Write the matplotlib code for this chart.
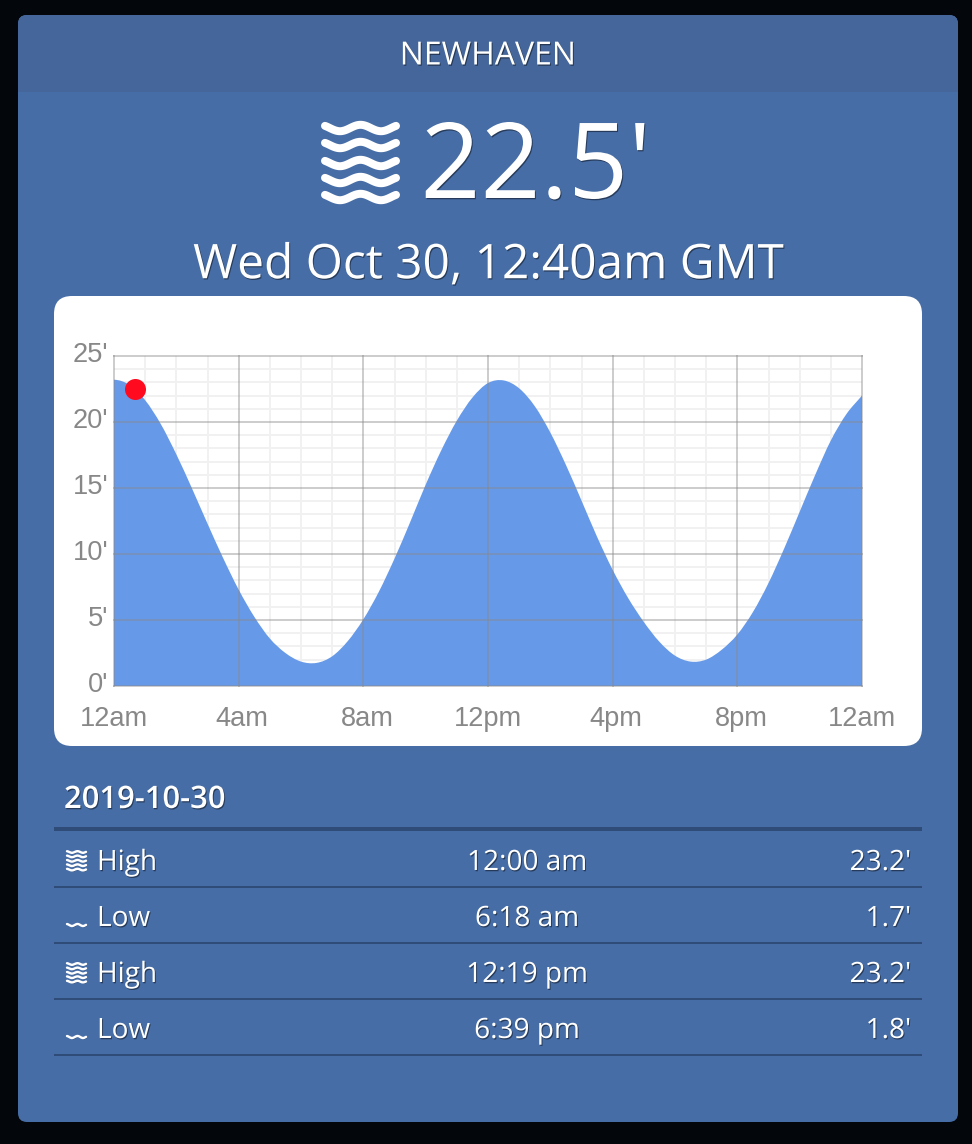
import numpy as np
import matplotlib
matplotlib.use('Agg')
import matplotlib.pyplot as plt
import matplotlib.patheffects as pe
from matplotlib.patches import FancyBboxPatch, Rectangle, PathPatch
from matplotlib.path import Path
from matplotlib.transforms import ScaledTranslation

W, H = 972, 1144

# Tide curve, one value every half hour
hours = np.arange(0, 24.5, 0.5)
heights = [23.2, 22.8, 21.65, 19.85, 17.55, 14.98, 12.3, 9.7, 7.3, 5.25, 3.6, 2.5, 1.85, 1.75, 2.25, 3.4,
           5.05, 7.15, 9.65, 12.4, 15.25, 17.85, 20.1, 21.85, 22.95, 23.15, 22.55, 21.2, 19.2, 16.75, 14.05, 11.3,
           8.8, 6.65, 4.85, 3.35, 2.3, 1.85, 2.0, 2.75, 3.9, 5.6, 7.8, 10.4, 13.2, 16.0, 18.6, 20.6, 22.0]

now_hour = 40 / 60
now_height = 22.5

x_ticks = [0, 4, 8, 12, 16, 20, 24]
x_labels = ['12am', '4am', '8am', '12pm', '4pm', '8pm', '12am']
x_nudge = [0, 3.5, 3.5, 0, 3.5, 3.5, 0]
y_ticks = [0, 5, 10, 15, 20, 25]
y_labels = ["0'", "5'", "10'", "15'", "20'", "25'"]

station = 'NEWHAVEN'
level_text = "22.5'"
date_text = 'Wed Oct 30, 12:40am GMT'
table_date = '2019-10-30'
tide_types = ['High', 'Low', 'High', 'Low']
tide_times = ['12:00 am', '6:18 am', '12:19 pm', '6:39 pm']
tide_levels = ["23.2'", "1.7'", "23.2'", "1.8'"]

BLACK = '#03060b'
PANEL = '#466da6'
HEADER = '#44669a'
RULE = '#2f4b78'
FILL = '#6699e8'


def px(size):
    # css pixels to points
    return size * 72 / fig.dpi


def waves(ax, x0, x1, centers, amp, period, trough, lw):
    xs = np.linspace(x0, x1, 60)
    for yc in centers:
        ys = yc + amp * np.cos(2 * np.pi * (xs - trough) / period)
        ax.plot(xs, ys, color='white', lw=lw, solid_capstyle='round', path_effects=shadow)


def smooth_area(xs, ys):
    # closed area under the readings, with bezier segments between them
    xs = np.asarray(xs, dtype=float)
    ys = np.asarray(ys, dtype=float)
    slope = np.gradient(ys, xs)
    slope[0] = 0
    verts = [(xs[0], 0), (xs[0], ys[0])]
    codes = [Path.MOVETO, Path.LINETO]
    for i in range(len(xs) - 1):
        d = (xs[i + 1] - xs[i]) / 3
        verts += [(xs[i] + d, ys[i] + slope[i] * d),
                  (xs[i + 1] - d, ys[i + 1] - slope[i + 1] * d),
                  (xs[i + 1], ys[i + 1])]
        codes += [Path.CURVE4] * 3
    verts += [(xs[-1], 0), (xs[0], 0)]
    codes += [Path.LINETO, Path.CLOSEPOLY]
    return Path(verts, codes)


fig = plt.figure(figsize=(W / 100, H / 100), dpi=100, facecolor=BLACK)
plt.rcParams['font.family'] = ['Open Sans', 'DejaVu Sans']

shadow = [pe.withSimplePatchShadow(offset=(0.7, -0.9), shadow_rgbFace='black', alpha=0.45)]

bg = fig.add_axes([0, 0, 1, 1])
bg.set_xlim(0, W)
bg.set_ylim(H, 0)
bg.axis('off')

panel = FancyBboxPatch((18 + 9, 15 + 9), 940 - 18, 1107 - 18, boxstyle='round,pad=9,rounding_size=9',
                       fc=PANEL, ec='none')
bg.add_patch(panel)
band = Rectangle((18, 15), 940, 77, fc=HEADER, ec='none')
bg.add_patch(band)
band.set_clip_path(panel)
bg.add_patch(FancyBboxPatch((54 + 18, 296 + 18), 868 - 36, 450 - 36, boxstyle='round,pad=18,rounding_size=18',
                            fc='white', ec='none'))

bg.text(488, 56, station, color='white', fontsize=px(32), ha='center', va='center', path_effects=shadow)
bg.text(536, 198, level_text, color='white', fontsize=px(105), ha='center', va='baseline', path_effects=shadow)
bg.text(488, 265.5, date_text, color='white', fontsize=px(47.8), ha='center', va='center', path_effects=shadow)
waves(bg, 325, 396, [128, 145, 163, 180, 197], 3.2, 41, 340, px(8))

# table below the chart
bg.text(64, 800, table_date, color='white', fontsize=px(31), fontweight=600, va='center', path_effects=shadow)
bg.plot([54, 922], [829, 829], color=RULE, lw=px(4), solid_capstyle='butt')
for i in range(4):
    yc = 861 + 56 * i
    bg.plot([54, 922], [yc + 26, yc + 26], color=RULE, lw=px(2), solid_capstyle='butt')
    bg.text(97, yc + 2, tide_types[i], color='white', fontsize=px(28), va='center', path_effects=shadow)
    bg.text(527, yc + 2, tide_times[i], color='white', fontsize=px(28), ha='center', va='center', path_effects=shadow)
    bg.text(911, yc + 2, tide_levels[i], color='white', fontsize=px(28), ha='right', va='center', path_effects=shadow)
    if tide_types[i] == 'High':
        waves(bg, 67, 86, [yc - 9 + 4.4 * k for k in range(5)], 0.8, 11, 72, px(2.4))
    else:
        waves(bg, 67, 86, [yc + 8], 1.0, 11, 72, px(2.4))

# tide chart
ax = fig.add_axes([114 / W, 1 - 686 / H, 748 / W, 330 / H], facecolor='white')
ax.set_xlim(0, 24)
ax.set_ylim(0, 25)
ax.set_xticks(np.arange(0, 25), minor=True)
ax.set_yticks(np.arange(0, 26), minor=True)
ax.set_xticks(x_ticks, x_labels)
ax.set_yticks(y_ticks, y_labels)
ax.tick_params(which='both', length=0)
ax.tick_params(axis='x', which='major', pad=px(20), labelsize=px(27.3), labelcolor='#888888')
ax.tick_params(axis='y', which='major', pad=px(5.5), labelsize=px(27.3), labelcolor='#888888')
for lab in ax.get_xticklabels() + ax.get_yticklabels():
    lab.set_fontfamily('Liberation Sans')
for lab, dx in zip(ax.get_xticklabels(), x_nudge):
    lab.set_transform(lab.get_transform() + ScaledTranslation(dx / fig.dpi, 0, fig.dpi_scale_trans))
for lab in ax.get_yticklabels():
    lab.set_transform(lab.get_transform() + ScaledTranslation(0, 4 / fig.dpi, fig.dpi_scale_trans))

ax.set_axisbelow(True)
ax.grid(which='minor', color='#f1f1f1', lw=px(2))
ax.add_patch(PathPatch(smooth_area(hours, heights), fc=FILL, ec='none', zorder=2))
for t in x_ticks:
    ax.axvline(t, color='#888888', alpha=0.42, lw=px(2), zorder=3, clip_on=False)
for v in y_ticks:
    ax.axhline(v, color='#888888', alpha=0.42, lw=px(2), zorder=3, clip_on=False)
for s in ax.spines.values():
    s.set_visible(False)
ax.scatter([now_hour], [now_height], s=px(21) ** 2, color='#ff0a1e', lw=0, zorder=5)

fig.savefig('out.png', dpi=100, facecolor=fig.get_facecolor())
